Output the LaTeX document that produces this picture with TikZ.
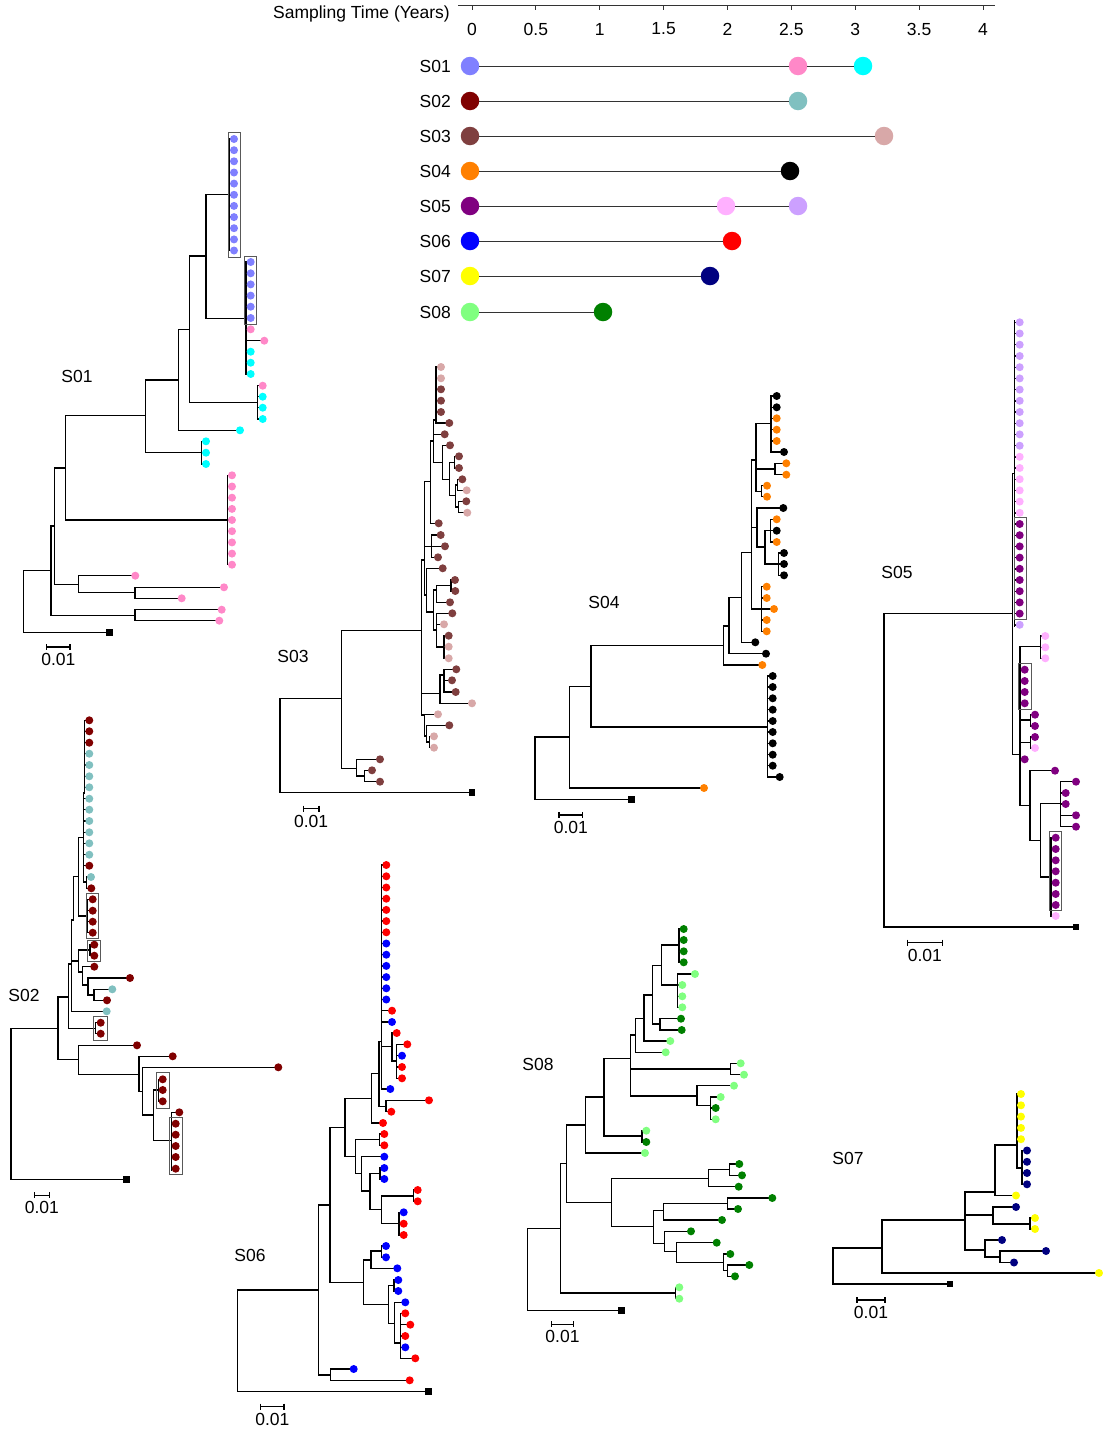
\documentclass[tikz,border=0pt]{standalone}
\usepackage{fontspec}
\setmainfont{Liberation Sans}
\definecolor{cA}{HTML}{8080FF}
\definecolor{cPk}{HTML}{FF88C8}
\definecolor{cCy}{HTML}{00FFFF}
\definecolor{cMr}{HTML}{800000}
\definecolor{cTl}{HTML}{80C0C0}
\definecolor{cBr}{HTML}{7F3F3F}
\definecolor{cRs}{HTML}{D8A8A8}
\definecolor{cOr}{HTML}{FF8000}
\definecolor{cPu}{HTML}{800080}
\definecolor{cLp}{HTML}{FFB0FF}
\definecolor{cLv}{HTML}{CCA0FF}
\definecolor{cBl}{HTML}{0000FF}
\definecolor{cRd}{HTML}{FF0000}
\definecolor{cYe}{HTML}{FFFF00}
\definecolor{cNv}{HTML}{000080}
\definecolor{cLg}{HTML}{80FF80}
\definecolor{cGr}{HTML}{008000}
\tikzset{
  br/.style={line width=1.4pt, line cap=rect},
  boxs/.style={draw=black!65, line width=1pt},
  lbl/.style={font=\fontsize{17.5}{20}\selectfont, inner sep=0pt},
  tc/.style={circle, minimum size=18.5pt, inner sep=0pt},
  tline/.style={line width=0.9pt, black!80},
}
\newcommand\hh[3]{\draw[br] (#1,#3)--(#2,#3);}
\newcommand\vv[3]{\draw[br] (#1,#2)--(#1,#3);}
\newcommand\lv[4]{\draw[br] (#1,#3)--(#2,#3); \fill[#4] (#2,#3) circle[radius=4pt];}
\newcommand\sqr[2]{\fill (#1,#2) +(-3.3,-3.3) rectangle +(3.3,3.3);}
\newcommand\bx[4]{\draw[boxs] (#1,#2) rectangle (#3,#4);}
\newcommand\scb[4]{\draw[line width=1.3pt] (#1,#3)--(#2,#3) (#1,#3-3)--(#1,#3+3) (#2,#3-3)--(#2,#3+3);
  \node[lbl] (#4) at ({(#1+#2)/2},#3+12.5) {0.01};}
\begin{document}
\begin{tikzpicture}[x=1pt,y=-1pt]
\useasboundingbox (0,0) rectangle (1103,1438);
% ================= timeline =================
\node[lbl, anchor=east] (ttl) at (450,14) {Sampling Time (Years)};
\draw[tline] (458,5)--(995,5);
\foreach \v/\t [count=\i] in {0/0,0.5/0.5,1/1,1.5/1.5,2/2,2.5/2.5,3/3,3.5/3.5,4/4}{
  \draw[tline] (472+127.75*\v,5)--(472+127.75*\v,10);
  \node[lbl] (tk\i) at (472+127.75*\v,29) {\t};
}
\foreach \n/\y in {1/66,2/101,3/136,4/171,5/206,6/241,7/276,8/312}{
  \node[lbl, anchor=east] (rl\n) at (451,\y) {S0\n};
}
\node[tc,fill=cA]  (a1) at (470,66) {};
\node[tc,fill=cPk] (b1) at (798,66) {};
\node[tc,fill=cCy] (c1) at (863,66) {};
\node[tc,fill=cMr] (a2) at (470,101) {};
\node[tc,fill=cTl] (b2) at (798,101) {};
\node[tc,fill=cBr] (a3) at (470,136) {};
\node[tc,fill=cRs] (b3) at (884,136) {};
\node[tc,fill=cOr] (a4) at (470,171) {};
\node[tc,fill=black] (b4) at (790,171) {};
\node[tc,fill=cPu] (a5) at (470,206) {};
\node[tc,fill=cLp] (b5) at (726,206) {};
\node[tc,fill=cLv] (c5) at (798,206) {};
\node[tc,fill=cBl] (a6) at (470,241) {};
\node[tc,fill=cRd] (b6) at (732,241) {};
\node[tc,fill=cYe] (a7) at (470,276) {};
\node[tc,fill=cNv] (b7) at (710,276) {};
\node[tc,fill=cLg] (a8) at (470,312) {};
\node[tc,fill=cGr] (b8) at (603,312) {};
\draw[tline] (a1)--(b1)--(c1);
\draw[tline] (a2)--(b2);
\draw[tline] (a3)--(b3);
\draw[tline] (a4)--(b4);
\draw[tline] (a5)--(b5)--(c5);
\draw[tline] (a6)--(b6);
\draw[tline] (a7)--(b7);
\draw[tline] (a8)--(b8);
% ================= S01 =================
\vv{229.3}{139}{250.7}
\foreach \y in {139,150.2,161.3,172.5,183.6,194.8,205.9,217.1,228.2,239.4,250.5}{\lv{229.3}{234}{\y}{cA}}
\hh{206}{229.3}{194.7}
\vv{246}{262}{374}
\foreach \y in {262,273.3,284.4,295.6,306.7,318}{\lv{246}{250.7}{\y}{cA}}
\lv{246}{250.7}{329.3}{cPk}
\lv{246}{264.3}{340.7}{cPk}
\foreach \y in {351.7,362.7,374}{\lv{246}{250.7}{\y}{cCy}}
\hh{206}{246}{318.3}
\vv{206}{194.7}{318.3}
\hh{189.3}{206}{256}
\vv{189.3}{256}{402.7}
\hh{189.3}{257.7}{402.7}
\vv{257.7}{385.7}{419}
\lv{257.7}{262.7}{385.7}{cPk}
\foreach \y in {396.7,407.7,419}{\lv{257.7}{262.7}{\y}{cCy}}
\hh{178.3}{189.3}{329.3}
\vv{178.3}{329.3}{430.3}
\lv{178.3}{240}{430.3}{cCy}
\hh{145.7}{178.3}{380}
\vv{145.7}{380}{452.7}
\hh{145.7}{201.7}{452.7}
\vv{201.7}{441.3}{464}
\foreach \y in {441.3,452.7,464}{\lv{201.7}{206}{\y}{cCy}}
\hh{65.7}{145.7}{415.7}
\vv{65.7}{415.7}{520}
\hh{65.7}{227.3}{520}
\vv{227.3}{475.3}{564.7}
\foreach \y in {475.3,486.5,497.7,508.9,520,531.2,542.4,553.6,564.7}{\lv{227.3}{232}{\y}{cPk}}
\hh{54.3}{65.7}{468}
\vv{54.3}{468}{584.3}
\hh{54.3}{78.7}{584.3}
\vv{78.7}{575.7}{592.7}
\lv{78.7}{135.3}{575.7}{cPk}
\hh{78.7}{135}{592.7}
\vv{135}{587.3}{598.3}
\lv{135}{224}{587.3}{cPk}
\lv{135}{181.7}{598.3}{cPk}
\hh{51}{54.3}{526}
\vv{51}{526}{615.3}
\hh{51}{135}{615.3}
\vv{135}{609.7}{620.7}
\lv{135}{221.7}{609.7}{cPk}
\lv{135}{219.3}{620.7}{cPk}
\hh{23.3}{51}{570.3}
\vv{23.3}{570.3}{632.3}
\hh{23.3}{109.3}{632.3}
\sqr{109.3}{632.3}
\bx{228}{132}{240}{257}
\bx{244}{256.3}{256.3}{324.3}
\scb{46.7}{70}{647}{sb1}
\node[lbl] (L1) at (77,376) {S01};
% ================= S02 =================
\vv{84.7}{720.3}{793}
\foreach \y in {720.3,731.3,742.7}{\lv{84.7}{89.3}{\y}{cMr}}
\foreach \y in {753.7,765,776.3,787.3}{\lv{84.7}{89.3}{\y}{cTl}}
\hh{83.3}{84.7}{793}
\vv{83.3}{793}{882}
\foreach \y in {798.7,809.7,821,832.3,843.3,854.7}{\lv{83.3}{89.3}{\y}{cTl}}
\lv{83.3}{89.3}{865.7}{cMr}
\hh{83.3}{86.7}{882}
\vv{86.7}{877}{888.3}
\lv{86.7}{91}{877}{cTl}
\lv{86.7}{91.3}{888.3}{cMr}
\hh{78.7}{83.3}{837.7}
\vv{78.7}{837.7}{916}
\hh{78.7}{87.3}{916}
\vv{87.3}{899.3}{932.7}
\foreach \y in {899.3,910.7,921.7,932.7}{\lv{87.3}{92.7}{\y}{cMr}}
\bx{86}{893.7}{98.7}{938.7}
\hh{73.7}{78.7}{876.7}
\vv{73.7}{876.7}{920}
\hh{71.7}{73.7}{920}
\vv{71.7}{920}{1011.3}
\lv{71.7}{106.7}{1011.3}{cTl}
\hh{71.7}{78.7}{961}
\vv{78.7}{950}{972}
\hh{78.7}{90}{950}
\vv{90}{944.7}{955.7}
\foreach \y in {944.7,955.7}{\lv{90}{94.3}{\y}{cMr}}
\bx{87.7}{940}{100}{961.3}
\hh{78.7}{82.3}{972}
\vv{82.3}{966.7}{985}
\lv{82.3}{94.3}{966.7}{cMr}
\hh{82.3}{88}{985}
\vv{88}{978}{994.8}
\lv{88}{130}{978}{cMr}
\hh{88}{94}{994.8}
\vv{94}{989.3}{1000.3}
\lv{94}{112.3}{989.3}{cTl}
\lv{94}{107}{1000.3}{cMr}
\hh{68.7}{71.7}{964}
\vv{68.7}{964}{1028.3}
\hh{68.7}{95.7}{1028.3}
\vv{95.7}{1022.7}{1033.7}
\foreach \y in {1022.7,1033.7}{\lv{95.7}{100.7}{\y}{cMr}}
\bx{93}{1016.3}{107}{1040}
\hh{58}{68.7}{997}
\vv{58}{997}{1059.3}
\hh{58}{78.7}{1059.3}
\vv{78.7}{1045.3}{1074.3}
\lv{78.7}{137}{1045.3}{cMr}
\hh{78.7}{139}{1074.3}
\vv{139}{1056.3}{1091.7}
\lv{139}{172.7}{1056.3}{cMr}
\hh{139}{142.7}{1091.7}
\vv{142.7}{1067.3}{1115}
\lv{142.7}{278.3}{1067.3}{cMr}
\hh{142.7}{153.7}{1115}
\vv{153.7}{1090}{1140.3}
\hh{153.7}{158.3}{1090}
\vv{158.3}{1079.3}{1101.3}
\foreach \y in {1079.3,1090,1101.3}{\lv{158.3}{162.7}{\y}{cMr}}
\bx{156.3}{1072.7}{169.3}{1108.3}
\hh{153.7}{171.3}{1140.3}
\vv{171.3}{1112.3}{1170}
\lv{171.3}{179.3}{1112.3}{cMr}
\foreach \y in {1123.7,1134.7,1146,1157,1168.7}{\lv{171.3}{175.7}{\y}{cMr}}
\bx{169.3}{1117.3}{182.3}{1174}
\hh{11}{58}{1028.3}
\vv{11}{1028.3}{1179.3}
\hh{11}{126.7}{1179.3}
\sqr{126.7}{1179.3}
\scb{34.3}{49.3}{1195.3}{sb2}
\node[lbl] (L2) at (24,995) {S02};
% ================= S03 =================
\hh{280}{341.7}{698.3}
\vv{280}{698.3}{792.3}
\hh{280}{472}{792.3}
\sqr{472}{792.3}
\vv{341.7}{630.3}{768.3}
\hh{341.7}{421.7}{630.3}
\hh{341.7}{356.7}{768.3}
\vv{356.7}{759.3}{776}
\lv{356.7}{380}{759.3}{cBr}
\hh{356.7}{364.7}{776}
\vv{364.7}{770.3}{781.7}
\lv{364.7}{372}{770.3}{cBr}
\lv{364.7}{380}{781.7}{cBr}
\vv{421.7}{560}{715}
\hh{421.7}{424.3}{560}
\hh{421.7}{440}{693.3}
\hh{421.7}{424.7}{715}
\vv{424.3}{481.7}{595}
\hh{424.3}{430.7}{481.7}
\hh{424.3}{431.7}{546.3}
\hh{424.3}{426.7}{595}
\vv{431.7}{535}{557.3}
\lv{431.7}{440.7}{535}{cBr}
\lv{431.7}{445}{546.3}{cBr}
\lv{431.7}{438}{557.3}{cBr}
\vv{430.7}{441}{523.3}
\hh{430.7}{433.7}{441}
\lv{430.7}{438.7}{523.3}{cBr}
\vv{433.7}{420}{462.3}
\hh{433.7}{436}{420}
\lv{433.7}{444.7}{434.3}{cBr}
\hh{433.7}{442.7}{462.3}
\vv{436}{367}{423}
\foreach \y/\c in {367/cRs,378.3/cRs,389.3/cBr,400.7/cBr,412/cBr}{\lv{436}{441}{\y}{\c}}
\lv{436}{449.3}{423}{cBr}
\vv{442.7}{445.3}{479.3}
\lv{442.7}{450}{445.3}{cBr}
\hh{442.7}{449.3}{479.3}
\vv{449.3}{462.3}{495.7}
\hh{449.3}{454.3}{462.3}
\vv{454.3}{456.3}{468}
\lv{454.3}{459}{456.3}{cBr}
\lv{454.3}{459}{468}{cBr}
\hh{449.3}{455.7}{495.7}
\vv{455.7}{485}{507}
\hh{455.7}{457.7}{485}
\vv{457.7}{479.3}{490.3}
\lv{457.7}{462.3}{479.3}{cBr}
\lv{457.7}{466.7}{490.3}{cRs}
\hh{455.7}{458.3}{507}
\vv{458.3}{501.3}{512.7}
\lv{458.3}{466.3}{501.3}{cBr}
\lv{458.3}{467.3}{512.7}{cRs}
\vv{426.7}{568.3}{612}
\lv{426.7}{442.7}{568.3}{cBr}
\hh{426.7}{433.3}{612}
\vv{433.3}{590}{630}
\hh{433.3}{436.7}{590}
\hh{433.3}{436.7}{630}
\vv{436.7}{585.7}{602.3}
\hh{436.7}{451}{585.7}
\vv{451}{580}{591}
\lv{451}{455}{580}{cBr}
\lv{451}{455.3}{591}{cBr}
\lv{436.7}{450}{602.3}{cBr}
\vv{436.7}{613.3}{647}
\lv{436.7}{452.3}{613.3}{cBr}
\lv{436.7}{444}{624.3}{cRs}
\hh{436.7}{444}{647}
\vv{444}{635.7}{658.3}
\lv{444}{448.7}{635.7}{cBr}
\lv{444}{448.7}{646.7}{cRs}
\lv{444}{448.7}{658.3}{cRs}
\vv{440}{675}{703.3}
\hh{440}{444}{675}
\vv{444}{669.3}{692}
\lv{444}{456.3}{669.3}{cBr}
\lv{444}{452}{680.3}{cBr}
\lv{444}{455.7}{692}{cBr}
\lv{440}{472}{703.3}{cRs}
\vv{424.7}{714.3}{736}
\lv{424.7}{438}{714.3}{cRs}
\hh{424.7}{426.7}{736}
\vv{426.7}{725.3}{742}
\lv{426.7}{449.3}{725.3}{cBr}
\hh{426.7}{429.3}{742}
\vv{429.3}{736.3}{747.7}
\lv{429.3}{434}{736.3}{cRs}
\lv{429.3}{434}{747.7}{cRs}
\scb{303.3}{319}{808.7}{sb3}
\node[lbl] (L3) at (293,656) {S03};
% ================= S04 =================
\vv{535}{737}{799.7}
\hh{535}{569.3}{737}
\hh{535}{631.3}{799.7}
\sqr{631.3}{799.7}
\vv{569.3}{686.3}{788}
\lv{569.3}{704}{788}{cOr}
\hh{569.3}{591}{686.3}
\vv{591}{645.7}{727}
\hh{591}{723.3}{645.7}
\hh{591}{767.3}{727}
\vv{767.3}{676}{777}
\foreach \y in {676,687,698.3,709.7,721,732,743.3,754.7,765.7}{\lv{767.3}{772.7}{\y}{black}}
\lv{767.3}{779.7}{777}{black}
\vv{723.3}{626}{665}
\lv{723.3}{762.3}{665}{cOr}
\hh{723.3}{729}{626}
\vv{729}{597.3}{653.7}
\lv{729}{766}{653.7}{black}
\hh{729}{741.3}{597.3}
\vv{741.3}{552.7}{642.3}
\lv{741.3}{755.3}{642.3}{black}
\hh{741.3}{751.7}{552.7}
\vv{751.7}{460}{609}
\hh{751.7}{756}{460}
\hh{751.7}{757}{527.7}
\hh{751.7}{761.3}{609}
\vv{756}{423.3}{491.7}
\hh{756}{771}{423.3}
\hh{756}{775}{469}
\hh{756}{761.7}{491.7}
\vv{771}{396}{452}
\foreach \y/\c in {396/black,407.3/black,418.3/cOr,429.7/cOr,441/cOr}{\lv{771}{776.7}{\y}{\c}}
\lv{771}{784}{452}{black}
\vv{775}{463.3}{474.7}
\foreach \y in {463.3,474.7}{\lv{775}{786.3}{\y}{cOr}}
\vv{761.7}{485.7}{496.7}
\foreach \y in {485.7,496.7}{\lv{761.7}{767}{\y}{cOr}}
\vv{757}{508}{547}
\lv{757}{783.3}{508}{black}
\hh{757}{765}{547}
\vv{765}{530.7}{564}
\hh{765}{770.7}{530.7}
\vv{770.7}{519.3}{542}
\foreach \y/\c in {519.3/cOr,530.7/black,542/cOr}{\lv{770.7}{776.7}{\y}{\c}}
\hh{765}{778.3}{564}
\vv{778.3}{553}{575.3}
\foreach \y in {553,564,575.3}{\lv{778.3}{784}{\y}{black}}
\vv{761.3}{586.7}{631.3}
\foreach \y in {586.7,598,620,631.3}{\lv{761.3}{766.7}{\y}{cOr}}
\lv{761.3}{774}{609}{cOr}
\scb{559}{582.7}{815}{sb4}
\node[lbl] (L4) at (604,602) {S04};
% ================= S05 =================
\vv{1014.3}{321}{626}
\foreach \y in {322.3,333.5,344.7,356,367.2,378.4,389.6,400.8,412,423.2,434.4,445.7}{\lv{1014.3}{1019.7}{\y}{cLv}}
\foreach \y in {456.8,468,479.2,490.4,501.6,512.8}{\lv{1014.3}{1019.7}{\y}{cLp}}
\foreach \y in {524,535.2,546.4,557.6,568.8,580,591.2,602.4,613.6}{\lv{1014.3}{1019.7}{\y}{cPu}}
\lv{1014.3}{1019.7}{624.8}{cLv}
\bx{1014.3}{517.3}{1026.3}{619.3}
\hh{1012.3}{1014.3}{473.3}
\vv{1012.3}{473.3}{754.7}
\hh{884}{1012.3}{613.7}
\vv{884}{613.7}{927}
\hh{884}{1076}{927}
\sqr{1076}{927}
\hh{1012.3}{1020}{754.7}
\vv{1020}{646.7}{805.3}
\hh{1020}{1040.7}{646.7}
\vv{1040.7}{636}{658.3}
\foreach \y in {636,647.3,658.3}{\lv{1040.7}{1045.3}{\y}{cLp}}
\foreach \y in {669.7,681,692,703.3}{\lv{1020}{1024.7}{\y}{cPu}}
\bx{1018.3}{663.3}{1031.3}{709.3}
\hh{1020}{1030.7}{720}
\vv{1030.7}{714.7}{726}
\foreach \y in {714.7,726}{\lv{1030.7}{1035}{\y}{cPu}}
\hh{1020}{1030.3}{742.7}
\vv{1030.3}{737}{748}
\lv{1030.3}{1035}{737}{cPu}
\lv{1030.3}{1035}{748}{cLp}
\lv{1020}{1024.7}{759.3}{cPu}
\hh{1020}{1030}{805.3}
\vv{1030}{770.7}{840.7}
\lv{1030}{1055}{770.7}{cPu}
\hh{1030}{1040.7}{840.7}
\vv{1040.7}{803.3}{877}
\hh{1040.7}{1060.7}{803.3}
\vv{1060.7}{781.7}{826.7}
\foreach \y/\x in {781.7/1076,793/1065.7,804/1065.7,815.3/1076,826.7/1076}{\lv{1060.7}{\x}{\y}{cPu}}
\hh{1040.7}{1051}{877}
\vv{1051}{837.7}{916}
\foreach \y in {837.7,849,860.3,871.3,882.7,894,905}{\lv{1051}{1055.7}{\y}{cPu}}
\lv{1051}{1055.7}{916}{cLp}
\bx{1049}{831.3}{1061}{910.7}
\scb{907.3}{942.3}{942.7}{sb5}
\node[lbl] (L5) at (897,572) {S05};
% ================= S06 =================
\vv{237.3}{1290}{1391.7}
\hh{237.3}{318.3}{1290}
\hh{237.3}{428.7}{1391.7}
\sqr{428.7}{1391.7}
\vv{318.3}{1205}{1375}
\hh{318.3}{330}{1205}
\hh{318.3}{330.7}{1375}
\vv{330.7}{1369}{1380.3}
\lv{330.7}{353.7}{1369}{cBl}
\lv{330.7}{409.7}{1380.3}{cRd}
\vv{330}{1127.3}{1282.3}
\hh{330}{345}{1127.3}
\hh{330}{363.3}{1282.3}
\vv{345}{1098.3}{1156.7}
\hh{345}{371.7}{1098.3}
\hh{345}{355.7}{1156.7}
\vv{355.7}{1139.3}{1173.3}
\hh{355.7}{379.3}{1139.3}
\vv{379.3}{1134}{1145.3}
\foreach \y in {1134,1145.3}{\lv{379.3}{384.3}{\y}{cRd}}
\hh{355.7}{361.7}{1173.3}
\vv{361.7}{1156.7}{1191}
\lv{361.7}{384.3}{1156.7}{cBl}
\hh{361.7}{370}{1191}
\vv{370}{1173.3}{1209.3}
\hh{370}{380}{1173.3}
\vv{380}{1168}{1179}
\foreach \y in {1168,1179}{\lv{380}{384.3}{\y}{cBl}}
\hh{370}{381.7}{1209.3}
\vv{381.7}{1196}{1223.7}
\hh{381.7}{413.3}{1196}
\vv{413.3}{1190}{1201.3}
\foreach \y in {1190,1201.3}{\lv{413.3}{417.7}{\y}{cRd}}
\hh{381.7}{399}{1223.7}
\vv{399}{1212.3}{1235}
\foreach \y/\c in {1212.3/cBl,1223.7/cRd,1235/cRd}{\lv{399}{403.7}{\y}{\c}}
\vv{363.3}{1260}{1304.3}
\hh{363.3}{371}{1260}
\hh{363.3}{388.3}{1304.3}
\vv{371}{1251}{1268.3}
\hh{371}{381.7}{1251}
\vv{381.7}{1246}{1257.3}
\foreach \y in {1246,1257.3}{\lv{381.7}{386}{\y}{cBl}}
\lv{371}{397.3}{1268.3}{cBl}
\vv{388.3}{1285.5}{1323.3}
\hh{388.3}{394}{1285.5}
\vv{394}{1280}{1291}
\foreach \y in {1280,1291}{\lv{394}{398.3}{\y}{cBl}}
\hh{388.3}{394.7}{1323.3}
\vv{394.7}{1302.3}{1343}
\lv{394.7}{405.3}{1302.3}{cBl}
\hh{394.7}{400.7}{1343}
\vv{400.7}{1313.3}{1358.3}
\foreach \y/\x/\c in {1313.3/405.3/cRd,1324.7/410.3/cRd,1336/405.3/cRd,1347.3/405.3/cBl,1358.3/415.3/cRd}{\lv{400.7}{\x}{\y}{\c}}
\vv{371.7}{1073.3}{1123}
\hh{371.7}{379}{1073.3}
\lv{371.7}{383}{1123}{cRd}
\vv{379}{1041.7}{1106.7}
\hh{379}{381.7}{1041.7}
\hh{379}{386}{1106.7}
\vv{386}{1100.3}{1111.7}
\lv{386}{429}{1100.3}{cRd}
\lv{386}{391.3}{1111.7}{cRd}
\vv{381.7}{865}{1089}
\foreach \y in {865,876.3,887.5,898.7,909.9,921.1,932.3}{\lv{381.7}{386.3}{\y}{cRd}}
\foreach \y in {943.5,954.7,965.9,977.1,988.3,999.5}{\lv{381.7}{386.3}{\y}{cBl}}
\lv{381.7}{392}{1010.7}{cRd}
\lv{381.7}{392}{1022}{cBl}
\hh{381.7}{392}{1046.7}
\lv{381.7}{390.3}{1089}{cBl}
\vv{392}{1033}{1061}
\lv{392}{396.7}{1033}{cRd}
\hh{392}{396.7}{1061}
\vv{396.7}{1044.3}{1078.3}
\foreach \y/\x/\c in {1044.3/407.3/cRd,1055.7/402/cBl,1067/402/cRd,1078.3/402/cRd}{\lv{396.7}{\x}{\y}{\c}}
\scb{260.7}{284}{1406.7}{sb6}
\node[lbl] (L6) at (250,1255) {S06};
% ================= S07 =================
\vv{833}{1248}{1284}
\hh{833}{882}{1248}
\hh{833}{950}{1284}
\sqr{950}{1284}
\vv{882}{1220}{1273}
\hh{882}{965}{1220}
\lv{882}{1099}{1273}{cYe}
\vv{965}{1192}{1250}
\hh{965}{995}{1192}
\vv{995}{1145}{1195}
\hh{995}{1017}{1145}
\vv{1017}{1094}{1168}
\foreach \y in {1094,1105.3,1116.6,1127.9,1139.2}{\lv{1017}{1021}{\y}{cYe}}
\hh{1017}{1022}{1168}
\vv{1022}{1150.5}{1184}
\foreach \y in {1150.5,1161.8,1173,1184.3}{\lv{1022}{1027}{\y}{cNv}}
\lv{995}{1016}{1195.5}{cYe}
\hh{965}{993}{1215}
\vv{993}{1207}{1224}
\lv{993}{1016}{1207}{cNv}
\hh{993}{1030}{1224}
\vv{1030}{1218}{1229}
\foreach \y in {1218,1229}{\lv{1030}{1035}{\y}{cYe}}
\hh{965}{985}{1250}
\vv{985}{1240}{1257}
\lv{985}{1002}{1240}{cNv}
\hh{985}{1000}{1257}
\vv{1000}{1251}{1262.5}
\lv{1000}{1046}{1251}{cNv}
\lv{1000}{1014}{1262.5}{cNv}
\scb{857}{885}{1300}{sb7}
\node[lbl] (L7) at (848,1158) {S07};
% ================= S08 =================
\vv{527.7}{1228.3}{1310.3}
\hh{527.7}{560.7}{1228.3}
\hh{527.7}{621.7}{1310.3}
\sqr{621.7}{1310.3}
\vv{560.7}{1163.3}{1293}
\hh{560.7}{675.3}{1293}
\vv{675.3}{1287.3}{1298.7}
\foreach \y in {1287.3,1298.7}{\lv{675.3}{679.3}{\y}{cLg}}
\hh{560.7}{566.7}{1163.3}
\vv{566.7}{1125}{1202.3}
\hh{566.7}{585.3}{1125}
\hh{566.7}{611.7}{1202.3}
\vv{585.3}{1097}{1153}
\hh{585.3}{604}{1097}
\lv{585.3}{645}{1153}{cLg}
\vv{604}{1058.3}{1136}
\hh{604}{642}{1136}
\vv{642}{1130.7}{1142}
\lv{642}{646.3}{1130.7}{cLg}
\lv{642}{646.3}{1142}{cGr}
\hh{604}{630.3}{1058.3}
\vv{630.3}{1035}{1096}
\hh{630.3}{635.3}{1035}
\hh{630.3}{730.7}{1069}
\vv{730.7}{1063.3}{1074.7}
\lv{730.7}{740.7}{1063.3}{cLg}
\lv{730.7}{744}{1074.7}{cLg}
\hh{630.3}{697}{1096}
\vv{697}{1085.7}{1105.7}
\lv{697}{734}{1085.7}{cLg}
\hh{697}{710.7}{1105.7}
\vv{710.7}{1097}{1119.3}
\lv{710.7}{720.7}{1097}{cLg}
\lv{710.7}{715.7}{1108}{cGr}
\lv{710.7}{715.7}{1119.3}{cLg}
\vv{635.3}{1018.3}{1052.3}
\lv{635.3}{665.7}{1052.3}{cLg}
\hh{635.3}{644}{1018.3}
\vv{644}{995}{1041}
\lv{644}{670.3}{1041}{cLg}
\hh{644}{652.7}{995}
\vv{652.7}{965.7}{1024}
\hh{652.7}{661.7}{965.7}
\hh{652.7}{660}{1024}
\vv{660}{1018.7}{1030}
\lv{660}{681}{1018.7}{cGr}
\lv{660}{681.7}{1030}{cGr}
\vv{661.7}{945}{985}
\hh{661.7}{679}{945}
\vv{679}{929}{962.3}
\foreach \y in {929,940,951.3,962.3}{\lv{679}{683.7}{\y}{cGr}}
\hh{661.7}{677.3}{985}
\vv{677.3}{974}{1007.3}
\lv{677.3}{695}{974}{cLg}
\foreach \y in {985,996.3,1007.3}{\lv{677.3}{682.3}{\y}{cLg}}
\vv{611.7}{1178.3}{1226.7}
\hh{611.7}{708.3}{1178.3}
\hh{611.7}{653.3}{1226.7}
\vv{708.3}{1169.3}{1186.7}
\hh{708.3}{729.3}{1169.3}
\vv{729.3}{1164}{1175.3}
\lv{729.3}{739.3}{1164}{cGr}
\lv{729.3}{742}{1175.3}{cGr}
\lv{708.3}{738.7}{1186.7}{cGr}
\vv{653.3}{1210.7}{1243.3}
\hh{653.3}{663.3}{1210.7}
\hh{653.3}{664.3}{1243.3}
\vv{663.3}{1203.7}{1220}
\hh{663.3}{727.3}{1203.7}
\vv{727.3}{1198}{1209}
\lv{727.3}{772.3}{1198}{cGr}
\lv{727.3}{738}{1209}{cGr}
\lv{663.3}{722}{1220}{cGr}
\vv{664.3}{1231.3}{1251.7}
\lv{664.3}{691}{1231.3}{cGr}
\hh{664.3}{676.7}{1251.7}
\vv{676.7}{1242.7}{1262.7}
\lv{676.7}{716.7}{1242.7}{cGr}
\hh{676.7}{723.3}{1262.7}
\vv{723.3}{1254}{1270.3}
\lv{723.3}{730.3}{1254}{cGr}
\hh{723.3}{727.3}{1270.3}
\vv{727.3}{1265}{1276.3}
\lv{727.3}{749.3}{1265}{cGr}
\lv{727.3}{735}{1276.3}{cGr}
\scb{551.3}{573.7}{1324.3}{sb8}
\node[lbl] (L8) at (538,1064) {S08};
\end{tikzpicture}
\end{document}
